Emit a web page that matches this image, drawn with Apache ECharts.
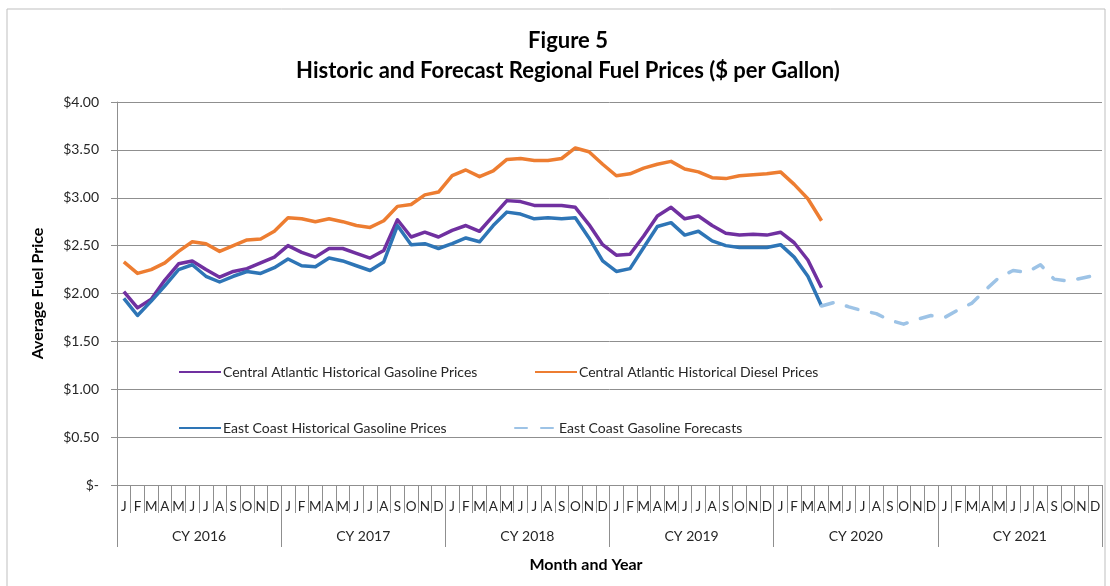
<!DOCTYPE html>
<html>
<head>
<meta charset="utf-8">
<script src="https://cdn.jsdelivr.net/npm/echarts@6/dist/echarts.min.js"></script>
<style>
  html, body { margin: 0; padding: 0; background: #fff; }
  #chart { width: 1110px; height: 586px; }
</style>
</head>
<body>
<div id="chart"></div>
<script>
// month letters, one per month Jan 2016 .. Dec 2021
var monthLetters = ['J','F','M','A','M','J','J','A','S','O','N','D'];
var years = ['CY 2016','CY 2017','CY 2018','CY 2019','CY 2020','CY 2021'];
var yTicks = [0, 0.5, 1, 1.5, 2, 2.5, 3, 3.5, 4];

// Jan 2016 .. Apr 2020
var gasCentralAtlantic = [
  2.02, 1.85, 1.94, 2.14, 2.31, 2.34, 2.25, 2.17, 2.23, 2.26, 2.32, 2.38,
  2.50, 2.43, 2.38, 2.47, 2.47, 2.42, 2.37, 2.45, 2.77, 2.59, 2.64, 2.59,
  2.66, 2.71, 2.65, 2.81, 2.97, 2.96, 2.92, 2.92, 2.92, 2.90, 2.72, 2.51,
  2.40, 2.41, 2.60, 2.81, 2.90, 2.78, 2.81, 2.71, 2.63, 2.61, 2.62, 2.61,
  2.64, 2.53, 2.35, 2.06
];
var dieselCentralAtlantic = [
  2.33, 2.21, 2.25, 2.32, 2.44, 2.54, 2.52, 2.44, 2.50, 2.56, 2.57, 2.65,
  2.79, 2.78, 2.75, 2.78, 2.75, 2.71, 2.69, 2.76, 2.91, 2.93, 3.03, 3.06,
  3.23, 3.29, 3.22, 3.28, 3.40, 3.41, 3.39, 3.39, 3.41, 3.52, 3.48, 3.35,
  3.23, 3.25, 3.31, 3.35, 3.38, 3.30, 3.27, 3.21, 3.20, 3.23, 3.24, 3.25,
  3.27, 3.14, 2.99, 2.76
];
var gasEastCoast = [
  1.95, 1.77, 1.92, 2.08, 2.25, 2.30, 2.18, 2.12, 2.18, 2.23, 2.21, 2.27,
  2.36, 2.29, 2.28, 2.37, 2.34, 2.29, 2.24, 2.33, 2.71, 2.51, 2.52, 2.47,
  2.52, 2.58, 2.54, 2.71, 2.85, 2.83, 2.78, 2.79, 2.78, 2.79, 2.58, 2.34,
  2.23, 2.26, 2.48, 2.70, 2.74, 2.61, 2.65, 2.55, 2.50, 2.48, 2.48, 2.48,
  2.51, 2.38, 2.18, 1.87
];
// Apr 2020 .. Dec 2021
var forecastStart = 51;
var gasEastCoastForecast = [
  1.87, 1.91, 1.86, 1.82, 1.79, 1.72, 1.68, 1.73, 1.77, 1.75,
  1.83, 1.90, 2.04, 2.17, 2.24, 2.22, 2.30, 2.15, 2.13, 2.16, 2.19
];

var months = [];
years.forEach(function () { months = months.concat(monthLetters); });

function pad(arr, start) {
  var out = [];
  for (var i = 0; i < months.length; i++) {
    var v = arr[i - start];
    out.push(v === undefined ? null : v);
  }
  return out;
}

var font = 'Lato, "Open Sans", sans-serif';
var gridColor = '#8f8f8f';
var textColor = '#262626';

var chart = echarts.init(document.getElementById('chart'));

function legendAt(name, left, top) {
  return {
    data: [name],
    left: left,
    top: top,
    itemWidth: 42,
    itemHeight: 14,
    itemGap: 4,
    itemStyle: { opacity: 0 },
    textStyle: { fontFamily: font, fontSize: 14, color: textColor, padding: [0, 0, 0, -3] }
  };
}

chart.setOption({
  animation: false,
  title: {
    text: 'Figure 5\nHistoric and Forecast Regional Fuel Prices ($ per Gallon)',
    left: 563,
    top: 21,
    textAlign: 'center',
    textStyle: { fontFamily: font, fontSize: 22, fontWeight: 'bold', color: '#000', lineHeight: 30 }
  },
  legend: [
    legendAt('Central Atlantic Historical Gasoline Prices', 173, 360),
    legendAt('Central Atlantic Historical Diesel Prices', 529, 360),
    legendAt('East Coast Historical Gasoline Prices', 173, 416),
    legendAt('East Coast Gasoline Forecasts', 509, 416)
  ],
  grid: { left: 117, right: 8, top: 102, bottom: 101 },
  xAxis: [
    {
      type: 'category',
      data: months,
      boundaryGap: true,
      axisLine: { show: true, lineStyle: { color: gridColor } },
      axisTick: { show: true, length: 28, interval: 0, lineStyle: { color: gridColor } },
      axisLabel: { interval: 0, margin: 15, fontFamily: font, fontSize: 13.5, color: textColor }
    },
    {
      type: 'category',
      data: years,
      position: 'bottom',
      boundaryGap: true,
      axisLine: { show: false },
      axisTick: { show: true, length: 62, interval: 0, lineStyle: { color: gridColor } },
      axisLabel: { interval: 0, margin: 44, fontFamily: font, fontSize: 14, color: textColor }
    }
  ],
  yAxis: {
    type: 'value',
    min: yTicks[0],
    max: yTicks[yTicks.length - 1],
    interval: 0.5,
    name: 'Average Fuel Price',
    nameLocation: 'middle',
    nameGap: 71,
    nameTextStyle: { fontFamily: font, fontSize: 16, fontWeight: 'bold', color: '#000' },
    axisLine: { show: true, lineStyle: { color: gridColor } },
    axisTick: { show: true, length: 6, lineStyle: { color: gridColor } },
    splitLine: { show: true, lineStyle: { color: gridColor } },
    axisLabel: {
      margin: 18,
      fontFamily: font,
      fontSize: 14,
      color: textColor,
      formatter: function (v) { return v === 0 ? '$-' : '$' + v.toFixed(2); }
    }
  },
  graphic: [
    {
      type: 'rect',
      shape: { x: 7, y: 9, width: 1098, height: 600 },
      style: { fill: 'none', stroke: '#bfbfbf', lineWidth: 1 },
      silent: true
    },
    {
      type: 'text',
      x: 586,
      y: 565,
      style: {
        text: 'Month and Year',
        textAlign: 'center',
        textVerticalAlign: 'middle',
        font: 'bold 16px ' + font,
        fill: '#000'
      }
    }
  ],
  series: [
    {
      name: 'Central Atlantic Historical Gasoline Prices',
      type: 'line',
      data: pad(gasCentralAtlantic, 0),
      symbol: 'none',
      color: '#7030A0',
      lineStyle: { width: 3.5, join: 'round' }
    },
    {
      name: 'Central Atlantic Historical Diesel Prices',
      type: 'line',
      data: pad(dieselCentralAtlantic, 0),
      symbol: 'none',
      color: '#ED7D31',
      lineStyle: { width: 3.5, join: 'round' }
    },
    {
      name: 'East Coast Historical Gasoline Prices',
      type: 'line',
      data: pad(gasEastCoast, 0),
      symbol: 'none',
      color: '#2E75B6',
      lineStyle: { width: 3.5, join: 'round' }
    },
    {
      name: 'East Coast Gasoline Forecasts',
      type: 'line',
      data: pad(gasEastCoastForecast, forecastStart),
      symbol: 'none',
      color: '#9DC3E6',
      lineStyle: { width: 3.5, type: [12, 14], cap: 'round', join: 'round' }
    }
  ]
});
</script>
</body>
</html>
